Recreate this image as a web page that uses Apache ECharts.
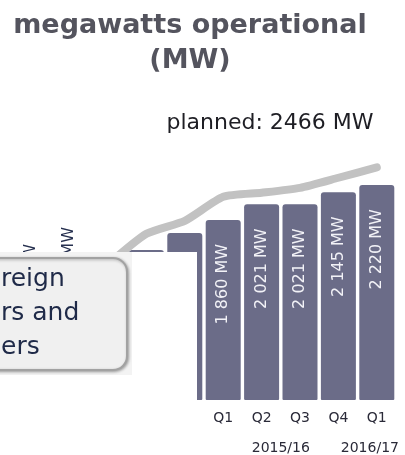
<!DOCTYPE html>
<html lang="en">
<head>
    <meta charset="UTF-8">
    <script src="https://cdn.jsdelivr.net/npm/echarts@6/dist/echarts.min.js"></script>
    <title>megawatts operational</title>
</head>
<body style="margin:0; background:#fff">
    <div id="chart_main" style="width: 405px; height: 455px"></div>
<script>

    // quarters, the first five are hidden behind the call-out
    var categories = ['Q4', 'Q1', 'Q2', 'Q3', 'Q4', 'Q1', 'Q2', 'Q3', 'Q4', 'Q1'];
    // operational MW per quarter
    var operational = [null, null, null, 1550, 1725, 1860, 2021, 2021, 2145, 2220];
    // planned MW (grey line)
    var planned = [null, null, 1400, 1717, 1851, 2099, 2141, 2192, 2296, 2404];
    // financial year labels, placed on the category scale
    var yearLabels = ['2015/16', '2016/17'];
    var yearPositions = [6.5, 8.82];

    var Chart_Main = echarts.init(document.getElementById('chart_main'));

    function mwLabel(v) {
        var s = String(v);
        if (s.length > 3) {
            s = s.slice(0, s.length - 3) + ' ' + s.slice(s.length - 3);
        }
        return s + ' MW';
    }

    option = {
        animation: false,
        grid: {
            left: 12,
            right: 9,
            top: 158,
            bottom: 55
        },
        xAxis: [{
            type: 'category',
            data: categories,
            axisLine: {show: false},
            axisTick: {show: false},
            axisLabel: {
                margin: 11,
                fontFamily: 'DejaVu Sans',
                fontSize: 14,
                color: '#2a2a38'
            }
        }, {
            type: 'value',
            position: 'bottom',
            min: -0.5,
            max: categories.length - 0.5,
            axisLine: {show: false},
            axisTick: {show: false},
            splitLine: {show: false},
            axisLabel: {
                customValues: yearPositions,
                margin: 41,
                fontFamily: 'DejaVu Sans',
                fontSize: 14,
                color: '#2a2a38',
                formatter: function (v) {
                    for (var i in yearPositions) {
                        if (Math.abs(yearPositions[i] - v) < 0.01) {
                            return yearLabels[i];
                        }
                    }
                    return '';
                }
            }
        }],
        yAxis: {
            type: 'value',
            min: 0,
            max: 2500,
            show: false
        },
        series: [{
            name: 'operational',
            type: 'bar',
            data: operational,
            barWidth: 35,
            itemStyle: {
                color: '#6b6c88',
                borderRadius: [3, 3, 1, 1]
            },
            label: {
                show: true,
                position: 'insideTop',
                distance: 24,
                rotate: 90,
                align: 'right',
                verticalAlign: 'middle',
                fontFamily: 'DejaVu Sans',
                fontSize: 16,
                color: '#f2f2f7',
                formatter: function (p) {
                    return mwLabel(p.value);
                }
            },
            z: 2
        }, {
            name: 'planned',
            type: 'line',
            data: planned,
            smooth: 0.2,
            symbol: 'none',
            lineStyle: {
                color: '#c2c2c2',
                width: 8,
                cap: 'round',
                join: 'round'
            },
            z: 3
        }],
        graphic: [{
            type: 'text',
            x: 190,
            y: 8,
            style: {
                text: 'megawatts operational\n(MW)',
                font: 'bold 27px "DejaVu Sans"',
                lineHeight: 35,
                fill: '#54545e',
                textAlign: 'center',
                textVerticalAlign: 'top'
            }
        }, {
            type: 'text',
            x: 270,
            y: 123,
            style: {
                text: 'planned: 2466 MW',
                font: '22px "DejaVu Sans"',
                fill: '#1e1e24',
                textAlign: 'center',
                textVerticalAlign: 'middle'
            }
        }, {
            type: 'text',
            x: 69,
            y: 227,
            rotation: Math.PI / 2,
            style: {
                text: 'MW',
                font: '16px "DejaVu Sans"',
                fill: '#26304f',
                textAlign: 'right',
                textVerticalAlign: 'middle'
            },
            z: 5
        }, {
            type: 'text',
            x: 31,
            y: 244,
            rotation: Math.PI / 2,
            style: {
                text: 'MW',
                font: '16px "DejaVu Sans"',
                fill: '#26304f',
                textAlign: 'right',
                textVerticalAlign: 'middle'
            },
            z: 5
        }, {
            // white panel over the older quarters
            type: 'rect',
            shape: {x: 0, y: 252, width: 197, height: 210},
            style: {fill: '#ffffff'},
            z: 10
        }, {
            type: 'rect',
            shape: {x: 0, y: 252, width: 132, height: 123},
            style: {fill: '#f3f3f3'},
            z: 11
        }, {
            type: 'rect',
            shape: {x: -30, y: 258, width: 157, height: 112, r: 14},
            style: {
                fill: '#f0f0f0',
                stroke: '#a2a2a2',
                lineWidth: 2,
                shadowBlur: 3,
                shadowOffsetX: 1,
                shadowOffsetY: 1,
                shadowColor: 'rgba(0,0,0,0.3)'
            },
            z: 12
        }, {
            type: 'text',
            x: 1,
            y: 279,
            style: {
                text: 'reign',
                font: '25px "DejaVu Sans"',
                fill: '#1f2a48',
                textVerticalAlign: 'middle'
            },
            z: 13
        }, {
            type: 'text',
            x: 1,
            y: 313,
            style: {
                text: 'rs and',
                font: '25px "DejaVu Sans"',
                fill: '#1f2a48',
                textVerticalAlign: 'middle'
            },
            z: 13
        }, {
            type: 'text',
            x: 1,
            y: 347,
            style: {
                text: 'ers',
                font: '25px "DejaVu Sans"',
                fill: '#1f2a48',
                textVerticalAlign: 'middle'
            },
            z: 13
        }]
    };

    Chart_Main.setOption(option);

</script>
</body>
</html>
